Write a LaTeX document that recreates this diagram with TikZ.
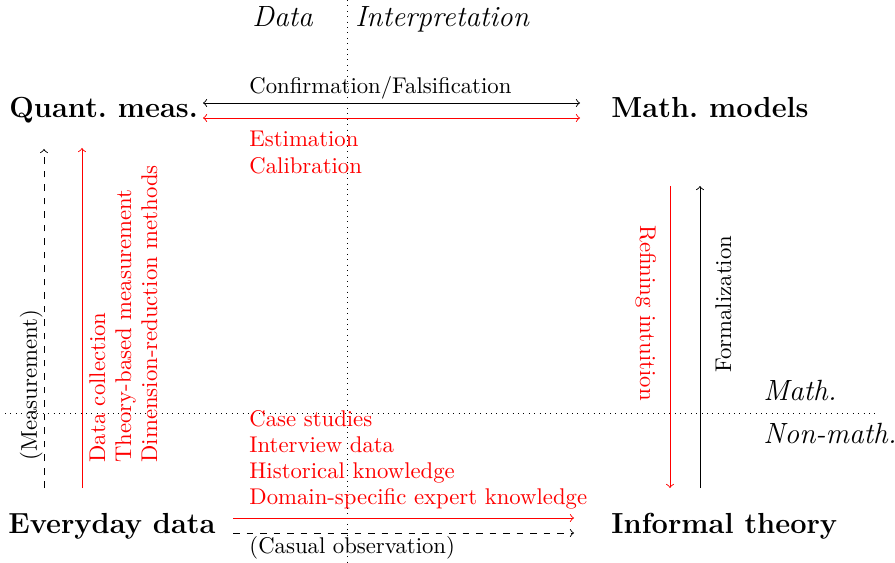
\documentclass[tikz,border=0pt]{standalone}
\begin{document}
\begin{tikzpicture}[x=0.4444pt,y=-0.4444pt,
  lbl/.style={font=\fontsize{12.9}{15}\selectfont\bfseries, inner sep=0pt, anchor=base west},
  txt/.style={font=\fontsize{10.1}{12}\selectfont, inner sep=0pt, anchor=base west},
  rtxt/.style={txt, text=red},
  axislbl/.style={font=\fontsize{13}{15}\selectfont\itshape, inner sep=0pt, anchor=base west},
  sep/.style={dotted},
  cons/.style={->},
  rcons/.style={->, red},
]
\useasboundingbox (0,0) rectangle (895,563);
% separators
\coordinate (vtop) at (347,0);
\coordinate (vbot) at (347,563);
\coordinate (hl) at (5,413);
\coordinate (hr) at (877,413);
\draw[sep] (vtop) -- (vbot);
\draw[sep] (hl) -- (hr);
% axis labels
\node[axislbl] (data) at (252,27) {Data};
\node[axislbl] (interp) at (355,27) {Interpretation};
\node[axislbl] (math) at (763,400) {Math.};
\node[axislbl] (nonmath) at (763,443) {Non-math.};
% corner nodes
\node[lbl] (qm) at (9,118) {Quant.\ meas.};
\node[lbl] (mm) at (611,118) {Math.\ models};
\node[lbl] (ed) at (8,533) {Everyday data};
\node[lbl] (it) at (611,533) {Informal theory};
% top
\coordinate (t1l) at (203,103); \coordinate (t1r) at (580,103);
\coordinate (t2l) at (203,118); \coordinate (t2r) at (580,118);
\draw[<->] (t1l) -- (t1r);
\draw[<->, red] (t2l) -- (t2r);
\node[txt] (conf) at (249,94) {Confirmation/Falsification};
\node[rtxt] (est) at (249,147) {Estimation};
\node[rtxt] (cal) at (249,174) {Calibration};
% left
\coordinate (l1b) at (44,488); \coordinate (l1t) at (44,149);
\coordinate (l2b) at (82,488); \coordinate (l2t) at (82,148);
\draw[cons, dashed] (l1b) -- (l1t);
\draw[rcons] (l2b) -- (l2t);
\node[txt, rotate=90] (meas) at (37,461) {(Measurement)};
\node[rtxt, rotate=90] (dc) at (105,463) {Data collection};
\node[rtxt, rotate=90] (tb) at (131,463) {Theory-based measurement};
\node[rtxt, rotate=90] (dr) at (157,463) {Dimension-reduction methods};
% right
\coordinate (r1t) at (670,186); \coordinate (r1b) at (670,488);
\coordinate (r2b) at (700,488); \coordinate (r2t) at (700,186);
\draw[rcons] (r1t) -- (r1b);
\draw[cons] (r2b) -- (r2t);
\node[rtxt, rotate=-90] (ref) at (640,225) {Refining intuition};
\node[txt, rotate=90] (form) at (731,373) {Formalization};
% bottom
\coordinate (b1l) at (233,518); \coordinate (b1r) at (574,518);
\coordinate (b2l) at (233,533); \coordinate (b2r) at (574,533);
\draw[rcons] (b1l) -- (b1r);
\draw[cons, dashed] (b2l) -- (b2r);
\node[rtxt] (cs) at (249,426) {Case studies};
\node[rtxt] (iv) at (249,452) {Interview data};
\node[rtxt] (hk) at (249,478) {Historical knowledge};
\node[rtxt] (dk) at (249,504) {Domain-specific expert knowledge};
\node[txt] (co) at (249,553) {(Casual observation)};
\end{tikzpicture}
\end{document}
